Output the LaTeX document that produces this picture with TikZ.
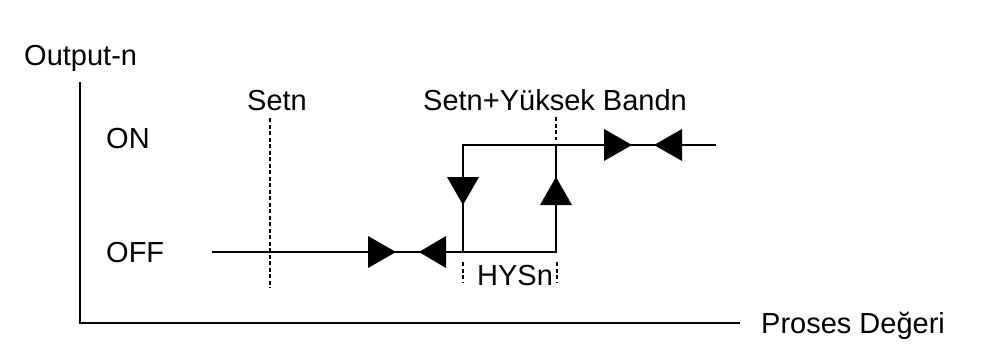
\documentclass[tikz,border=0pt]{standalone}
\usepackage{fontspec}
\setmainfont{Liberation Sans}
\begin{document}
\begin{tikzpicture}[x=1pt,y=-1pt,
  lbl/.style={inner sep=0pt,anchor=base west,font=\fontsize{29}{32}\selectfont},
  wire/.style={line width=2pt},
  guide/.style={line width=1.7pt,dash pattern=on 4pt off 2.5pt},
  tri/.style={fill=black}]
\useasboundingbox (0,0) rectangle (982,348);
% axes
\coordinate (ytop) at (80,82);
\coordinate (org) at (80,323);
\coordinate (xend) at (740,323);
\draw[wire] (ytop) -- (org) -- (xend);
% labels
\node[lbl] (out) at (24,65) {Output-n};
\node[lbl] (pv) at (761,333) {Proses Değeri};
\node[lbl] (on) at (106,148) {ON};
\node[lbl] (off) at (106,262) {OFF};
\node[lbl] (setn) at (247,110) {Setn};
\node[lbl] (seth) at (423,110) {Setn+Yüksek Bandn};
\node[lbl] (hys) at (477,285) {HYSn};
% guides
\coordinate (s1) at (270,118); \coordinate (s2) at (270,288);
\draw[guide] (s1) -- (s2);
\coordinate (h1) at (556,117); \coordinate (h2) at (556,140);
\draw[guide] (h1) -- (h2);
\coordinate (a1) at (463,262); \coordinate (a2) at (463,283);
\coordinate (b1) at (557,262); \coordinate (b2) at (557,283);
\draw[guide] (a1) -- (a2);
\draw[guide] (b1) -- (b2);
% hysteresis loop
\coordinate (offs) at (212,252);
\coordinate (lb) at (463,252);
\coordinate (rb) at (556,252);
\coordinate (lt) at (463,145);
\coordinate (rt) at (556,145);
\coordinate (ons) at (716,145);
\draw[wire] (offs) -- (rb) -- (rt);
\draw[wire] (lb) -- (lt) -- (ons);
% arrowheads
\fill[tri] (368,236) -- (396,252) -- (368,268) -- cycle;
\fill[tri] (446,236) -- (419,252) -- (446,268) -- cycle;
\fill[tri] (447,177) -- (479,177) -- (463,205) -- cycle;
\fill[tri] (540,205) -- (572,205) -- (556,177) -- cycle;
\fill[tri] (604,129) -- (632,145) -- (604,161) -- cycle;
\fill[tri] (682,129) -- (654,145) -- (682,161) -- cycle;
\end{tikzpicture}
\end{document}
